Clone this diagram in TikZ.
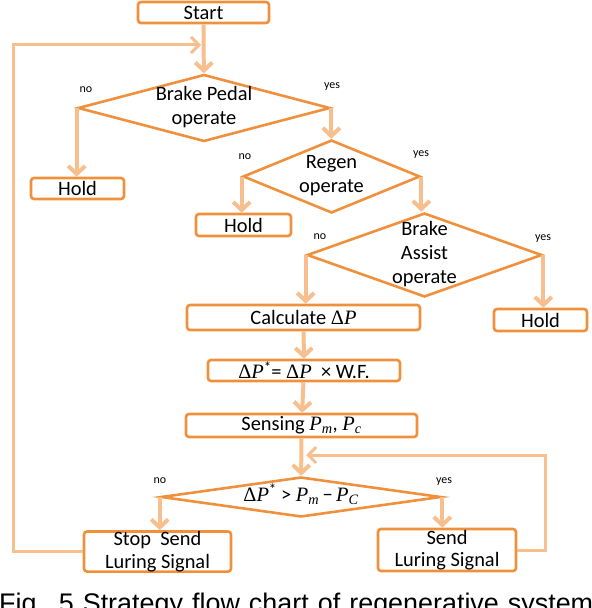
\documentclass[tikz,border=0pt]{standalone}
\usepackage{fontspec}
\setmainfont{Carlito}
\newfontfamily\capfont{Liberation Sans}
\newfontfamily\symfont{Liberation Serif}
\usepackage{tikz}
\usetikzlibrary{positioning, shapes.geometric, arrows.meta}
\definecolor{boxorange}{HTML}{F0903C}
\definecolor{arrowpeach}{HTML}{F8BF8E}

\newcommand{\dlt}{{\symfont Δ}}
\newcommand{\vP}{{\symfont\itshape P}}
\newcommand{\ix}[1]{\textsubscript{\symfont\itshape #1}}
\newcommand{\st}{\raisebox{0.3em}{\fontsize{15}{15}\selectfont *}}
\newcommand{\dtext}[1]{\smash{\makebox[0pt]{\raisebox{-4.5bp}{\begin{tabular}{@{}c@{}}#1\end{tabular}}}}}

\begin{document}
\begin{tikzpicture}[x=1bp, y=-1bp,
	box/.style={draw=boxorange, line width=2.6bp, rounded corners=3bp, inner sep=0pt, align=center, font=\fontsize{20.5}{22.5}\selectfont},
	decision/.style={diamond, draw=boxorange, line width=2.6bp, inner sep=0pt, font=\fontsize{20.5}{24}\selectfont},
	flow/.style={draw=arrowpeach, line width=4bp, -{Straight Barb[length=8bp, width=17bp]}},
	backflow/.style={draw=arrowpeach, line width=3bp, -{Straight Barb[length=8bp, width=16bp]}},
	answer/.style={inner sep=0pt, font=\fontsize{12}{13}\selectfont}]

	\useasboundingbox (0, 0) rectangle (592, 608);

	% boxes
	\node[box, minimum width=131bp, minimum height=21bp] (start) at (203.5, 12.5) {Start};
	\node[box, minimum width=93bp, minimum height=21bp] (hold1) at (77.5, 188.5) {Hold};
	\node[box, minimum width=95bp, minimum height=22bp] (hold2) at (243.5, 225) {Hold};
	\node[box, minimum width=93bp, minimum height=22bp] (hold3) at (540.5, 320) {Hold};
	\node[box, minimum width=233bp, minimum height=25bp] (calc) at (303.5, 317.5) {Calculate \dlt\vP};
	\node[box, minimum width=192bp, minimum height=21bp] (weight) at (304, 370.5) {\dlt\vP\st= \dlt\vP\ \ × W.F.};
	\node[box, minimum width=231bp, minimum height=23bp] (sensing) at (301.5, 425.5) {Sensing \vP\ix{m}, \vP\ix{c}};
	\node[box, minimum width=147bp, minimum height=39bp] (stop) at (157.5, 551.5) {Stop\ \ Send\\Luring Signal};
	\node[box, minimum width=138bp, minimum height=42bp] (send) at (447, 550) {Send\\Luring Signal};

	% decisions
	\node[decision, minimum width=252bp, minimum height=67bp] (pedal) at (204, 108) {\dtext{Brake Pedal\\operate}};
	\node[decision, minimum width=177bp, minimum height=73bp] (regen) at (331.5, 176.5) {\dtext{Regen\\operate}};
	\node[decision, minimum width=235bp, minimum height=84bp] (assist) at (424.5, 255) {\dtext{Brake\\Assist\\operate}};
	\node[decision, minimum width=280bp, minimum height=40bp] (compare) at (301, 497) {\dtext{\dlt\vP\st\ > \vP\ix{m}\,−\,\vP\ix{C}}};

	% answers
	\node[answer] (no1) at (86, 90) {no};
	\node[answer] (yes1) at (332, 87) {yes};
	\node[answer] (no2) at (245, 157) {no};
	\node[answer] (yes2) at (421, 155) {yes};
	\node[answer] (no3) at (320, 237) {no};
	\node[answer] (yes3) at (543, 239) {yes};
	\node[answer] (no4) at (160, 481) {no};
	\node[answer] (yes4) at (444, 482) {yes};

	% flow
	\draw[flow] (start) -- (pedal);
	\draw[flow] (pedal.west) -- (pedal.west |- hold1.north);
	\draw[flow] (pedal.east) -- (pedal.east |- regen.north);
	\draw[flow] (regen.west) -- (regen.west |- hold2.north);
	\draw[flow] (regen.east) -- (regen.east |- assist.north);
	\draw[flow] (assist.west) -- (assist.west |- calc.north);
	\draw[flow] (assist.east) -- (assist.east |- hold3.north);
	\draw[flow] (calc) -- (weight);
	\draw[flow] (weight) -- (sensing);
	\draw[flow] (sensing) -- (compare);
	\draw[flow] (compare.west) -- (compare.west |- stop.north);
	\draw[flow] (compare.east) -- (compare.east |- send.north);

	% loops back
	\coordinate (join1) at (201, 45);
	\coordinate (join2) at (306, 455);
	\draw[backflow] (stop.west) -- ++(-69, 0) |- (join1);
	\draw[backflow] (send.east) -- ++(28, 0) |- (join2);

	\node[anchor=base west, inner sep=0pt, font=\capfont\fontsize{27}{29}\selectfont] (caption) at (-1, 612.5)
		{\makebox[594bp][s]{Fig. 5 Strategy flow chart of regenerative system}};

\end{tikzpicture}
\end{document}
